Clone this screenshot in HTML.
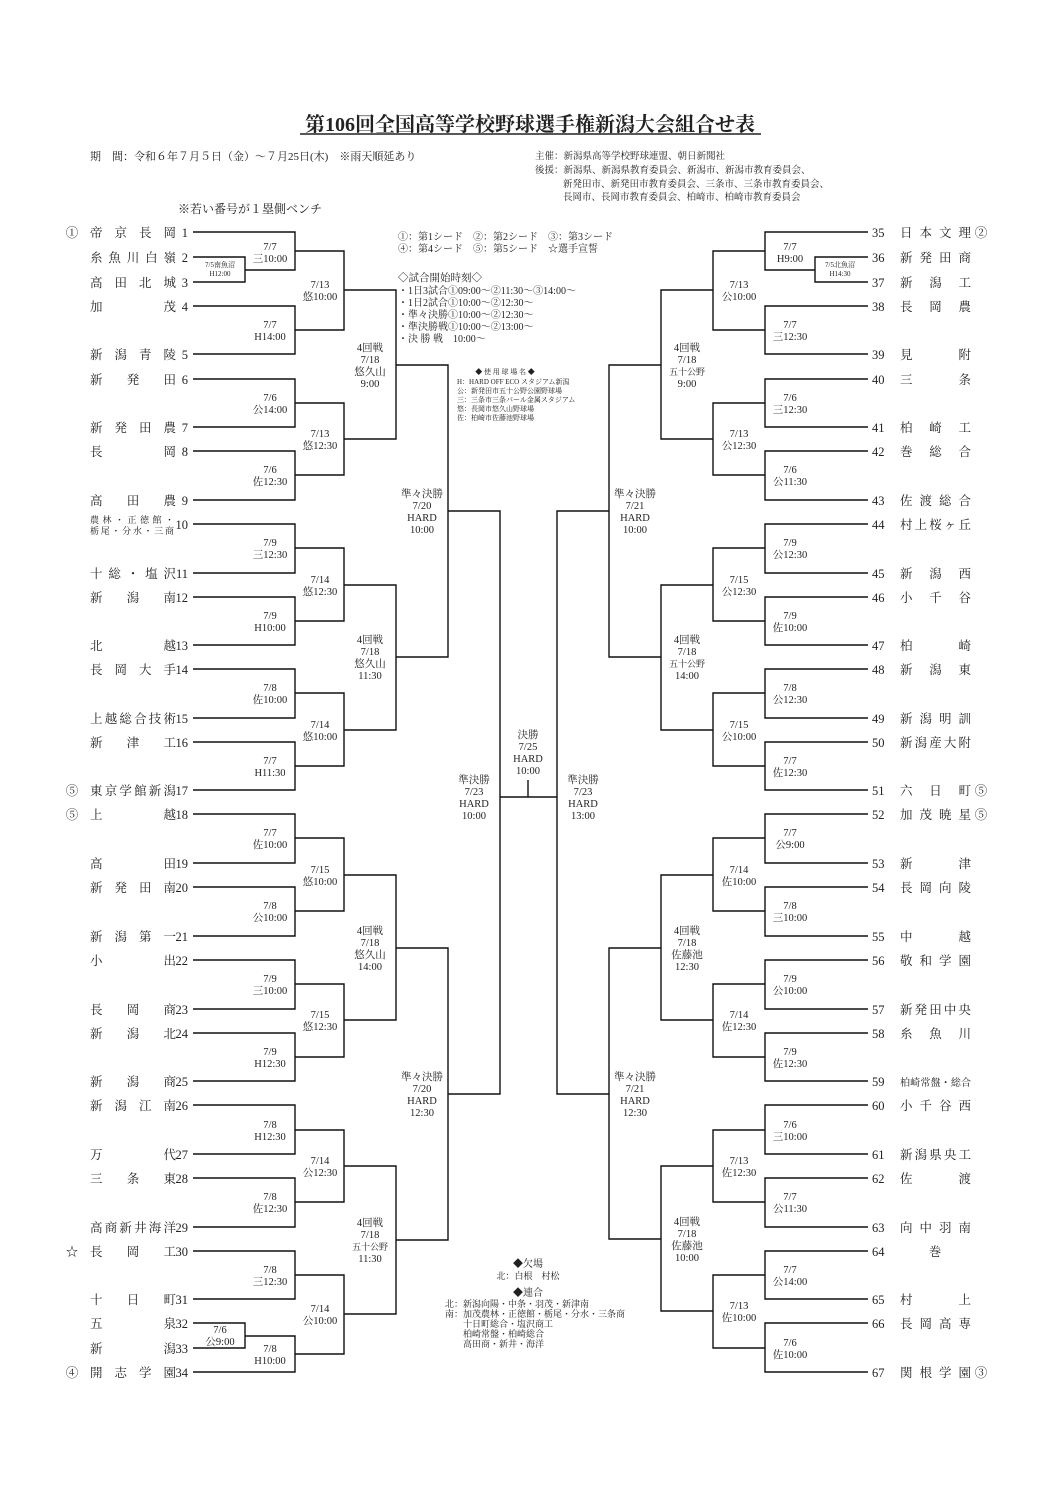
<!DOCTYPE html>
<html><head><meta charset="utf-8"><style>
html,body{margin:0;padding:0;background:#fff}
svg{display:block}
text{font-family:"Liberation Serif","Noto Serif CJK SC",serif;fill:#222}
.l{font-size:10.5px;text-anchor:middle}
.t{font-size:12.5px}
.s{font-size:10px}
.xs{font-size:7px;text-anchor:middle}
.ln{text-anchor:end}
</style></head><body>
<svg width="1061" height="1500" viewBox="0 0 1061 1500" xmlns="http://www.w3.org/2000/svg">
<rect width="1061" height="1500" fill="#fff"/>
<text x="530" y="131" style="font-size:20px;font-weight:bold;text-anchor:middle">第106回全国高等学校野球選手権新潟大会組合せ表</text>
<line x1="300" y1="134" x2="761" y2="134" stroke="#222" stroke-width="1.5"/>
<text x="90" y="160" class="s" style="font-size:11px">期　間：令和６年７月５日（金）～７月25日(木)　※雨天順延あり</text>
<text x="535" y="159" class="s" style="font-size:9.5px">主催：新潟県高等学校野球連盟、朝日新聞社</text>
<text x="535" y="173" class="s" style="font-size:9.5px">後援：新潟県、新潟県教育委員会、新潟市、新潟市教育委員会、</text>
<text x="563" y="187" class="s" style="font-size:9.5px">新発田市、新発田市教育委員会、三条市、三条市教育委員会、</text>
<text x="563" y="200" class="s" style="font-size:9.5px">長岡市、長岡市教育委員会、柏崎市、柏崎市教育委員会</text>
<text x="178" y="213" style="font-size:12px">※若い番号が１塁側ベンチ</text>

<g class="s" style="font-size:10px">
<text x="398" y="240">①：第1シード　②：第2シード　③：第3シード</text>
<text x="398" y="252">④：第4シード　⑤：第5シード　☆選手宣誓</text>
<text x="398" y="281" style="font-size:10.5px">◇試合開始時刻◇</text>
<text x="398" y="294">・1日3試合①09:00～②11:30～③14:00～</text>
<text x="398" y="306">・1日2試合①10:00～②12:30～</text>
<text x="398" y="318">・準々決勝①10:00～②12:30～</text>
<text x="398" y="330">・準決勝戦①10:00～②13:00～</text>
<text x="398" y="342">・決 勝 戦　10:00～</text>
</g>
<g style="font-size:7px">
<text x="505" y="374" style="text-anchor:middle">◆ 使 用 球 場 名 ◆</text>
<text x="457" y="384">H：HARD OFF ECO スタジアム新潟</text>
<text x="457" y="393">公：新発田市五十公野公園野球場</text>
<text x="457" y="402">三：三条市三条パール金属スタジアム</text>
<text x="457" y="411">悠：長岡市悠久山野球場</text>
<text x="457" y="420">佐：柏崎市佐藤池野球場</text>
</g>
<g style="font-size:9px">
<text x="528" y="1267" style="text-anchor:middle;font-size:10px">◆欠場</text>
<text x="528" y="1279" style="text-anchor:middle">北：白根　村松</text>
<text x="528" y="1296" style="text-anchor:middle;font-size:10px">◆連合</text>
<text x="445" y="1307">北：新潟向陽・中条・羽茂・新津南</text>
<text x="445" y="1317">南：加茂農林・正徳館・栃尾・分水・三条商</text>
<text x="463" y="1327">十日町総合・塩沢商工</text>
<text x="463" y="1337">柏崎常盤・柏崎総合</text>
<text x="463" y="1347">高田商・新井・海洋</text>
</g>

<g fill="none" stroke="#111" stroke-width="1.4">
<path d="M193 257H245V282H193"/><path d="M193 232H295V270H245"/><path d="M193 306H295V354H193"/><path d="M295 251H344V330H295"/>
<path d="M193 379H295V427H193"/><path d="M193 451H295V500H193"/><path d="M295 403H344V475H295"/><path d="M344 290H396V439H344"/>
<path d="M193 524H295V573H193"/><path d="M193 597H295V645H193"/><path d="M295 548H344V621H295"/>
<path d="M193 669H295V718H193"/><path d="M193 742H295V790H193"/><path d="M295 693H344V766H295"/><path d="M344 585H396V730H344"/>
<path d="M396 365H448V657H396"/>
<path d="M193 814H295V863H193"/><path d="M193 887H295V936H193"/><path d="M295 838H344V911H295"/>
<path d="M193 960H295V1009H193"/><path d="M193 1033H295V1081H193"/><path d="M295 984H344V1057H295"/><path d="M344 875H396V1020H344"/>
<path d="M193 1105H295V1154H193"/><path d="M193 1178H295V1227H193"/><path d="M295 1130H344V1202H295"/>
<path d="M193 1251H295V1299H193"/><path d="M193 1323H245V1348H193"/><path d="M245 1336H295V1372H193"/><path d="M295 1275H344V1354H295"/><path d="M344 1166H396V1314H344"/>
<path d="M396 948H448V1240H396"/>
<path d="M448 511H500V1094H448"/>
<path d="M500 797H557"/><path d="M528 780V797"/>
<path d="M868 257H815V282H868"/><path d="M868 232H765V270H815"/><path d="M868 306H765V354H868"/><path d="M765 251H713V330H765"/>
<path d="M868 379H765V427H868"/><path d="M868 451H765V500H868"/><path d="M765 403H713V475H765"/><path d="M713 290H661V439H713"/>
<path d="M868 524H765V573H868"/><path d="M868 597H765V645H868"/><path d="M765 548H713V621H765"/>
<path d="M868 669H765V718H868"/><path d="M868 742H765V790H868"/><path d="M765 693H713V766H765"/><path d="M713 585H661V730H713"/>
<path d="M661 365H609V657H661"/>
<path d="M868 814H765V863H868"/><path d="M868 887H765V936H868"/><path d="M765 838H713V911H765"/>
<path d="M868 960H765V1009H868"/><path d="M868 1033H765V1081H868"/><path d="M765 984H713V1057H765"/><path d="M713 875H661V1020H713"/>
<path d="M868 1105H765V1154H868"/><path d="M868 1178H765V1227H868"/><path d="M765 1130H713V1202H765"/>
<path d="M868 1251H765V1299H868"/><path d="M868 1323H765V1372H868"/><path d="M765 1275H713V1348H765"/><path d="M713 1166H661V1311H713"/>
<path d="M661 948H609V1239H661"/>
<path d="M609 511H557V1094H609"/>
</g>

<g class="t">
<text x="72" y="237" style="text-anchor:middle">①</text><text x="90" y="237" textLength="86" lengthAdjust="spacing">帝京長岡</text><text x="188" y="237" class="ln">1</text>
<text x="90" y="262" textLength="86" lengthAdjust="spacing">糸魚川白嶺</text><text x="188" y="262" class="ln">2</text>
<text x="90" y="287" textLength="86" lengthAdjust="spacing">高田北城</text><text x="188" y="287" class="ln">3</text>
<text x="90" y="311" textLength="86" lengthAdjust="spacing">加茂</text><text x="188" y="311" class="ln">4</text>
<text x="90" y="359" textLength="86" lengthAdjust="spacing">新潟青陵</text><text x="188" y="359" class="ln">5</text>
<text x="90" y="384" textLength="86" lengthAdjust="spacing">新発田</text><text x="188" y="384" class="ln">6</text>
<text x="90" y="432" textLength="86" lengthAdjust="spacing">新発田農</text><text x="188" y="432" class="ln">7</text>
<text x="90" y="456" textLength="86" lengthAdjust="spacing">長岡</text><text x="188" y="456" class="ln">8</text>
<text x="90" y="505" textLength="86" lengthAdjust="spacing">高田農</text><text x="188" y="505" class="ln">9</text>
<text x="90" y="523" style="font-size:9px" textLength="84" lengthAdjust="spacing">農林・正徳館・</text>
<text x="90" y="534" style="font-size:9px" textLength="84" lengthAdjust="spacing">栃尾・分水・三商</text><text x="188" y="529" class="ln">10</text>
<text x="90" y="578" textLength="86" lengthAdjust="spacing">十総・塩沢</text><text x="188" y="578" class="ln">11</text>
<text x="90" y="602" textLength="86" lengthAdjust="spacing">新潟南</text><text x="188" y="602" class="ln">12</text>
<text x="90" y="650" textLength="86" lengthAdjust="spacing">北越</text><text x="188" y="650" class="ln">13</text>
<text x="90" y="674" textLength="86" lengthAdjust="spacing">長岡大手</text><text x="188" y="674" class="ln">14</text>
<text x="90" y="723" textLength="86" lengthAdjust="spacing">上越総合技術</text><text x="188" y="723" class="ln">15</text>
<text x="90" y="747" textLength="86" lengthAdjust="spacing">新津工</text><text x="188" y="747" class="ln">16</text>
<text x="72" y="795" style="text-anchor:middle">⑤</text><text x="90" y="795" textLength="86" lengthAdjust="spacing">東京学館新潟</text><text x="188" y="795" class="ln">17</text>
<text x="72" y="819" style="text-anchor:middle">⑤</text><text x="90" y="819" textLength="86" lengthAdjust="spacing">上越</text><text x="188" y="819" class="ln">18</text>
<text x="90" y="868" textLength="86" lengthAdjust="spacing">高田</text><text x="188" y="868" class="ln">19</text>
<text x="90" y="892" textLength="86" lengthAdjust="spacing">新発田南</text><text x="188" y="892" class="ln">20</text>
<text x="90" y="941" textLength="86" lengthAdjust="spacing">新潟第一</text><text x="188" y="941" class="ln">21</text>
<text x="90" y="965" textLength="86" lengthAdjust="spacing">小出</text><text x="188" y="965" class="ln">22</text>
<text x="90" y="1014" textLength="86" lengthAdjust="spacing">長岡商</text><text x="188" y="1014" class="ln">23</text>
<text x="90" y="1038" textLength="86" lengthAdjust="spacing">新潟北</text><text x="188" y="1038" class="ln">24</text>
<text x="90" y="1086" textLength="86" lengthAdjust="spacing">新潟商</text><text x="188" y="1086" class="ln">25</text>
<text x="90" y="1110" textLength="86" lengthAdjust="spacing">新潟江南</text><text x="188" y="1110" class="ln">26</text>
<text x="90" y="1159" textLength="86" lengthAdjust="spacing">万代</text><text x="188" y="1159" class="ln">27</text>
<text x="90" y="1183" textLength="86" lengthAdjust="spacing">三条東</text><text x="188" y="1183" class="ln">28</text>
<text x="90" y="1232" textLength="86" lengthAdjust="spacing">高商新井海洋</text><text x="188" y="1232" class="ln">29</text>
<text x="72" y="1256" style="text-anchor:middle">☆</text><text x="90" y="1256" textLength="86" lengthAdjust="spacing">長岡工</text><text x="188" y="1256" class="ln">30</text>
<text x="90" y="1304" textLength="86" lengthAdjust="spacing">十日町</text><text x="188" y="1304" class="ln">31</text>
<text x="90" y="1328" textLength="86" lengthAdjust="spacing">五泉</text><text x="188" y="1328" class="ln">32</text>
<text x="90" y="1353" textLength="86" lengthAdjust="spacing">新潟</text><text x="188" y="1353" class="ln">33</text>
<text x="72" y="1377" style="text-anchor:middle">④</text><text x="90" y="1377" textLength="86" lengthAdjust="spacing">開志学園</text><text x="188" y="1377" class="ln">34</text>
</g>
<g class="t">
<text x="872" y="237">35</text><text x="900" y="237" textLength="71" lengthAdjust="spacing">日本文理</text><text x="981" y="237" style="text-anchor:middle">②</text>
<text x="872" y="262">36</text><text x="900" y="262" textLength="71" lengthAdjust="spacing">新発田商</text>
<text x="872" y="287">37</text><text x="900" y="287" textLength="71" lengthAdjust="spacing">新潟工</text>
<text x="872" y="311">38</text><text x="900" y="311" textLength="71" lengthAdjust="spacing">長岡農</text>
<text x="872" y="359">39</text><text x="900" y="359" textLength="71" lengthAdjust="spacing">見附</text>
<text x="872" y="384">40</text><text x="900" y="384" textLength="71" lengthAdjust="spacing">三条</text>
<text x="872" y="432">41</text><text x="900" y="432" textLength="71" lengthAdjust="spacing">柏崎工</text>
<text x="872" y="456">42</text><text x="900" y="456" textLength="71" lengthAdjust="spacing">巻総合</text>
<text x="872" y="505">43</text><text x="900" y="505" textLength="71" lengthAdjust="spacing">佐渡総合</text>
<text x="872" y="529">44</text><text x="900" y="529" textLength="71" lengthAdjust="spacing">村上桜ヶ丘</text>
<text x="872" y="578">45</text><text x="900" y="578" textLength="71" lengthAdjust="spacing">新潟西</text>
<text x="872" y="602">46</text><text x="900" y="602" textLength="71" lengthAdjust="spacing">小千谷</text>
<text x="872" y="650">47</text><text x="900" y="650" textLength="71" lengthAdjust="spacing">柏崎</text>
<text x="872" y="674">48</text><text x="900" y="674" textLength="71" lengthAdjust="spacing">新潟東</text>
<text x="872" y="723">49</text><text x="900" y="723" textLength="71" lengthAdjust="spacing">新潟明訓</text>
<text x="872" y="747">50</text><text x="900" y="747" textLength="71" lengthAdjust="spacing">新潟産大附</text>
<text x="872" y="795">51</text><text x="900" y="795" textLength="71" lengthAdjust="spacing">六日町</text><text x="981" y="795" style="text-anchor:middle">⑤</text>
<text x="872" y="819">52</text><text x="900" y="819" textLength="71" lengthAdjust="spacing">加茂暁星</text><text x="981" y="819" style="text-anchor:middle">⑤</text>
<text x="872" y="868">53</text><text x="900" y="868" textLength="71" lengthAdjust="spacing">新津</text>
<text x="872" y="892">54</text><text x="900" y="892" textLength="71" lengthAdjust="spacing">長岡向陵</text>
<text x="872" y="941">55</text><text x="900" y="941" textLength="71" lengthAdjust="spacing">中越</text>
<text x="872" y="965">56</text><text x="900" y="965" textLength="71" lengthAdjust="spacing">敬和学園</text>
<text x="872" y="1014">57</text><text x="900" y="1014" textLength="71" lengthAdjust="spacing">新発田中央</text>
<text x="872" y="1038">58</text><text x="900" y="1038" textLength="71" lengthAdjust="spacing">糸魚川</text>
<text x="872" y="1086">59</text><text x="900" y="1086" style="font-size:10px" textLength="71" lengthAdjust="spacing">柏崎常盤・総合</text>
<text x="872" y="1110">60</text><text x="900" y="1110" textLength="71" lengthAdjust="spacing">小千谷西</text>
<text x="872" y="1159">61</text><text x="900" y="1159" textLength="71" lengthAdjust="spacing">新潟県央工</text>
<text x="872" y="1183">62</text><text x="900" y="1183" textLength="71" lengthAdjust="spacing">佐渡</text>
<text x="872" y="1232">63</text><text x="900" y="1232" textLength="71" lengthAdjust="spacing">向中羽南</text>
<text x="872" y="1256">64</text><text x="935" y="1256" style="text-anchor:middle">巻</text>
<text x="872" y="1304">65</text><text x="900" y="1304" textLength="71" lengthAdjust="spacing">村上</text>
<text x="872" y="1328">66</text><text x="900" y="1328" textLength="71" lengthAdjust="spacing">長岡高専</text>
<text x="872" y="1377">67</text><text x="900" y="1377" textLength="71" lengthAdjust="spacing">関根学園</text><text x="981" y="1377" style="text-anchor:middle">③</text>
</g>

<text x="220" y="267" class="xs">7/5南魚沼</text><text x="220" y="276" class="xs">H12:00</text>
<text x="840" y="267" class="xs">7/5北魚沼</text><text x="840" y="276" class="xs">H14:30</text>

<g class="l">
<text x="270" y="250">7/7</text><text x="270" y="262">三10:00</text>
<text x="270" y="328">7/7</text><text x="270" y="340">H14:00</text>
<text x="320" y="288">7/13</text><text x="320" y="300">悠10:00</text>
<text x="270" y="401">7/6</text><text x="270" y="413">公14:00</text>
<text x="270" y="473">7/6</text><text x="270" y="485">佐12:30</text>
<text x="320" y="437">7/13</text><text x="320" y="449">悠12:30</text>
<text x="370" y="351">4回戦</text><text x="370" y="363">7/18</text><text x="370" y="375">悠久山</text><text x="370" y="387">9:00</text>
<text x="270" y="546">7/9</text><text x="270" y="558">三12:30</text>
<text x="270" y="619">7/9</text><text x="270" y="631">H10:00</text>
<text x="320" y="583">7/14</text><text x="320" y="595">悠12:30</text>
<text x="270" y="691">7/8</text><text x="270" y="703">佐10:00</text>
<text x="270" y="764">7/7</text><text x="270" y="776">H11:30</text>
<text x="320" y="728">7/14</text><text x="320" y="740">悠10:00</text>
<text x="370" y="643">4回戦</text><text x="370" y="655">7/18</text><text x="370" y="667">悠久山</text><text x="370" y="679">11:30</text>
<text x="422" y="497">準々決勝</text><text x="422" y="509">7/20</text><text x="422" y="521">HARD</text><text x="422" y="533">10:00</text>
<text x="270" y="836">7/7</text><text x="270" y="848">佐10:00</text>
<text x="270" y="909">7/8</text><text x="270" y="921">公10:00</text>
<text x="320" y="873">7/15</text><text x="320" y="885">悠10:00</text>
<text x="270" y="982">7/9</text><text x="270" y="994">三10:00</text>
<text x="270" y="1055">7/9</text><text x="270" y="1067">H12:30</text>
<text x="320" y="1018">7/15</text><text x="320" y="1030">悠12:30</text>
<text x="370" y="934">4回戦</text><text x="370" y="946">7/18</text><text x="370" y="958">悠久山</text><text x="370" y="970">14:00</text>
<text x="270" y="1128">7/8</text><text x="270" y="1140">H12:30</text>
<text x="270" y="1200">7/8</text><text x="270" y="1212">佐12:30</text>
<text x="320" y="1164">7/14</text><text x="320" y="1176">公12:30</text>
<text x="270" y="1273">7/8</text><text x="270" y="1285">三12:30</text>
<text x="220" y="1333">7/6</text><text x="220" y="1345">公9:00</text>
<text x="270" y="1352">7/8</text><text x="270" y="1364">H10:00</text>
<text x="320" y="1312">7/14</text><text x="320" y="1324">公10:00</text>
<text x="370" y="1226">4回戦</text><text x="370" y="1238">7/18</text><text x="370" y="1250" style="font-size:9px">五十公野</text><text x="370" y="1262">11:30</text>
<text x="422" y="1080">準々決勝</text><text x="422" y="1092">7/20</text><text x="422" y="1104">HARD</text><text x="422" y="1116">12:30</text>
<text x="474" y="783">準決勝</text><text x="474" y="795">7/23</text><text x="474" y="807">HARD</text><text x="474" y="819">10:00</text>
<text x="528" y="738">決勝</text><text x="528" y="750">7/25</text><text x="528" y="762">HARD</text><text x="528" y="774">10:00</text>
<text x="583" y="783">準決勝</text><text x="583" y="795">7/23</text><text x="583" y="807">HARD</text><text x="583" y="819">13:00</text>

<text x="790" y="250">7/7</text><text x="790" y="262">H9:00</text>
<text x="790" y="328">7/7</text><text x="790" y="340">三12:30</text>
<text x="739" y="288">7/13</text><text x="739" y="300">公10:00</text>
<text x="790" y="401">7/6</text><text x="790" y="413">三12:30</text>
<text x="790" y="473">7/6</text><text x="790" y="485">公11:30</text>
<text x="739" y="437">7/13</text><text x="739" y="449">公12:30</text>
<text x="687" y="351">4回戦</text><text x="687" y="363">7/18</text><text x="687" y="375" style="font-size:9px">五十公野</text><text x="687" y="387">9:00</text>
<text x="790" y="546">7/9</text><text x="790" y="558">公12:30</text>
<text x="790" y="619">7/9</text><text x="790" y="631">佐10:00</text>
<text x="739" y="583">7/15</text><text x="739" y="595">公12:30</text>
<text x="790" y="691">7/8</text><text x="790" y="703">公12:30</text>
<text x="790" y="764">7/7</text><text x="790" y="776">佐12:30</text>
<text x="739" y="728">7/15</text><text x="739" y="740">公10:00</text>
<text x="687" y="643">4回戦</text><text x="687" y="655">7/18</text><text x="687" y="667" style="font-size:9px">五十公野</text><text x="687" y="679">14:00</text>
<text x="635" y="497">準々決勝</text><text x="635" y="509">7/21</text><text x="635" y="521">HARD</text><text x="635" y="533">10:00</text>
<text x="790" y="836">7/7</text><text x="790" y="848">公9:00</text>
<text x="790" y="909">7/8</text><text x="790" y="921">三10:00</text>
<text x="739" y="873">7/14</text><text x="739" y="885">佐10:00</text>
<text x="790" y="982">7/9</text><text x="790" y="994">公10:00</text>
<text x="790" y="1055">7/9</text><text x="790" y="1067">佐12:30</text>
<text x="739" y="1018">7/14</text><text x="739" y="1030">佐12:30</text>
<text x="687" y="934">4回戦</text><text x="687" y="946">7/18</text><text x="687" y="958">佐藤池</text><text x="687" y="970">12:30</text>
<text x="790" y="1128">7/6</text><text x="790" y="1140">三10:00</text>
<text x="790" y="1200">7/7</text><text x="790" y="1212">公11:30</text>
<text x="739" y="1164">7/13</text><text x="739" y="1176">佐12:30</text>
<text x="790" y="1273">7/7</text><text x="790" y="1285">公14:00</text>
<text x="790" y="1346">7/6</text><text x="790" y="1358">佐10:00</text>
<text x="739" y="1309">7/13</text><text x="739" y="1321">佐10:00</text>
<text x="687" y="1225">4回戦</text><text x="687" y="1237">7/18</text><text x="687" y="1249">佐藤池</text><text x="687" y="1261">10:00</text>
<text x="635" y="1080">準々決勝</text><text x="635" y="1092">7/21</text><text x="635" y="1104">HARD</text><text x="635" y="1116">12:30</text>
</g>
</svg>
</body></html>
